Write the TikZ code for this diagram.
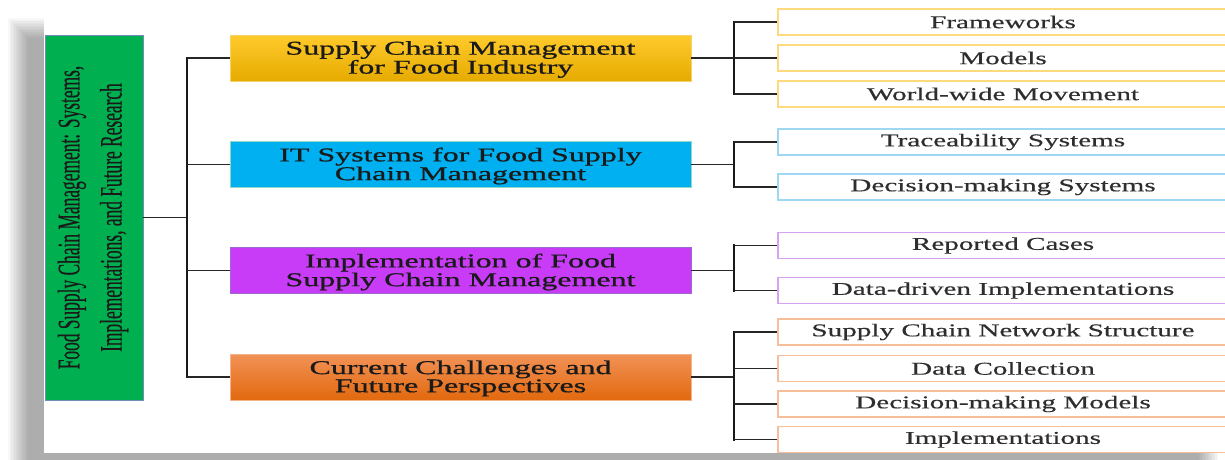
\documentclass[tikz,border=0pt]{standalone}
\usepackage{fontspec}
\setmainfont{Liberation Serif}
\newfontfamily\midserif[FakeBold=0.7]{Liberation Serif}
\newfontfamily\leafserif[FakeBold=0.35]{Liberation Serif}
\newfontfamily\rootserif[FakeBold=0.45]{Liberation Serif}
\usetikzlibrary{calc}

\definecolor{rootgreen}{HTML}{00B050}
\definecolor{rootline}{HTML}{6E8FB8}
\definecolor{ytop}{HTML}{FFCA2C}
\definecolor{ybot}{HTML}{E6AB00}
\definecolor{yline}{HTML}{F5D36A}
\definecolor{bluefill}{HTML}{00B0F0}
\definecolor{blueline}{HTML}{8FD8C8}
\definecolor{purplefill}{HTML}{C93CF7}
\definecolor{purpleline}{HTML}{9B6BD0}
\definecolor{otop}{HTML}{F29257}
\definecolor{obot}{HTML}{E2690E}
\definecolor{oline}{HTML}{F5B38A}
\definecolor{leafA}{HTML}{FFD97D}
\definecolor{leafB}{HTML}{9FD6F2}
\definecolor{leafC}{HTML}{D9A2F0}
\definecolor{leafD}{HTML}{F6BE9B}
\definecolor{inkdark}{HTML}{1A1A1A}
\definecolor{inkleaf}{HTML}{2E2E2E}
\definecolor{linkgray}{HTML}{262626}

% text helpers: horizontally widened serif lines
\newcommand{\midtext}[1]{\raisebox{-2pt}[\height][\depth]{\scalebox{1.64}[1]{\midserif\fontsize{19.5}{17.5}\selectfont\begin{tabular}{@{}c@{}}#1\end{tabular}}}}
\newcommand{\leaftext}[1]{\scalebox{1.62}[1]{\leafserif\fontsize{18}{18}\selectfont #1}}

\begin{document}
\begin{tikzpicture}[x=1pt,y=-1pt,
  rootbox/.style={draw=rootline, fill=rootgreen, line width=0.8pt,
    minimum width=98pt, minimum height=365pt, inner sep=0pt, text=inkdark},
  midbox/.style={minimum width=461pt, minimum height=46pt, inner sep=0pt,
    line width=0.6pt, text=inkdark},
  leafbox/.style={fill=white, minimum width=450pt, minimum height=26pt,
    inner sep=0pt, line width=1.4pt, text=inkleaf},
  link/.style={line width=1.6pt, draw=linkgray},
  bar/.style={line width=2.8pt, draw=black!90, line cap=rect},
]
\useasboundingbox (0,0) rectangle (1225,459);
\clip (0,0) rectangle (1225,459);

% soft drop shadow behind the page
\foreach \i in {0,...,13}
  \fill[black, fill opacity=0.027] ({8+1.5*\i},{18+1.5*\i}) rectangle ({1218-1.5*\i},470);
\fill[white] (44,5) rectangle (1235,453);

% root
\node[rootbox] (root) at (94,217.5) {\rotatebox{90}{\raisebox{2pt}[\height][\depth]{\scalebox{1}[1.8]{\rootserif\fontsize{17.4}{23.5}\selectfont
  \begin{tabular}{@{}c@{}}Food Supply Chain Management: Systems,\\ Implementations, and Future Research\end{tabular}}}}};

% main branches
\node[midbox, draw=yline, top color=ytop, bottom color=ybot] (m1) at (460.5,58)
  {\midtext{Supply Chain Management\\ for Food Industry}};
\node[midbox, draw=blueline, fill=bluefill] (m2) at (460.5,164.5)
  {\midtext{IT Systems for Food Supply\\ Chain Management}};
\node[midbox, draw=purpleline, fill=purplefill] (m3) at (460.5,270.5)
  {\midtext{Implementation of Food\\ Supply Chain Management}};
\node[midbox, draw=oline, top color=otop, bottom color=obot] (m4) at (460.5,377)
  {\midtext{Current Challenges and\\ Future Perspectives}};

% leaves
\node[leafbox, draw=leafA] (a1) at (1003,22)    {\leaftext{Frameworks}};
\node[leafbox, draw=leafA] (a2) at (1003,58)    {\leaftext{Models}};
\node[leafbox, draw=leafA] (a3) at (1003,94)    {\leaftext{World-wide Movement}};
\node[leafbox, draw=leafB] (b1) at (1003,142)   {\leaftext{Traceability Systems}};
\node[leafbox, draw=leafB] (b2) at (1003,187)   {\leaftext{Decision-making Systems}};
\node[leafbox, draw=leafC] (c1) at (1003,245.5) {\leaftext{Reported Cases}};
\node[leafbox, draw=leafC] (c2) at (1003,290.5) {\leaftext{Data-driven Implementations}};
\node[leafbox, draw=leafD] (d1) at (1003,332)   {\leaftext{Supply Chain Network Structure}};
\node[leafbox, draw=leafD] (d2) at (1003,368.5) {\leaftext{Data Collection}};
\node[leafbox, draw=leafD] (d3) at (1003,404)   {\leaftext{Decision-making Models}};
\node[leafbox, draw=leafD] (d4) at (1003,439.5) {\leaftext{Implementations}};

% junction columns
\coordinate (jl) at (187,217.5);
\coordinate (jr) at (734,0);

% root to main branches
\draw[link] (root.east) -- (jl);
\draw[bar] (jl |- m1.west) -- (jl |- m4.west);
\foreach \m in {m1,m2,m3,m4}
  \draw[link] (jl |- \m.west) -- (\m.west);

% main branches to leaves
\foreach \m in {m1,m2,m3,m4}
  \draw[link] (\m.east) -- (\m.east -| jr);
\draw[bar] (jr |- a1.west) -- (jr |- a3.west);
\draw[bar] (jr |- b1.west) -- (jr |- b2.west);
\draw[bar] (jr |- c1.west) -- (jr |- c2.west);
\draw[bar] (jr |- d1.west) -- (jr |- d4.west);
\foreach \l in {a1,a2,a3,b1,b2,c1,c2,d1,d2,d3,d4}
  \draw[link] (jr |- \l.west) -- (\l.west);
\end{tikzpicture}
\end{document}
